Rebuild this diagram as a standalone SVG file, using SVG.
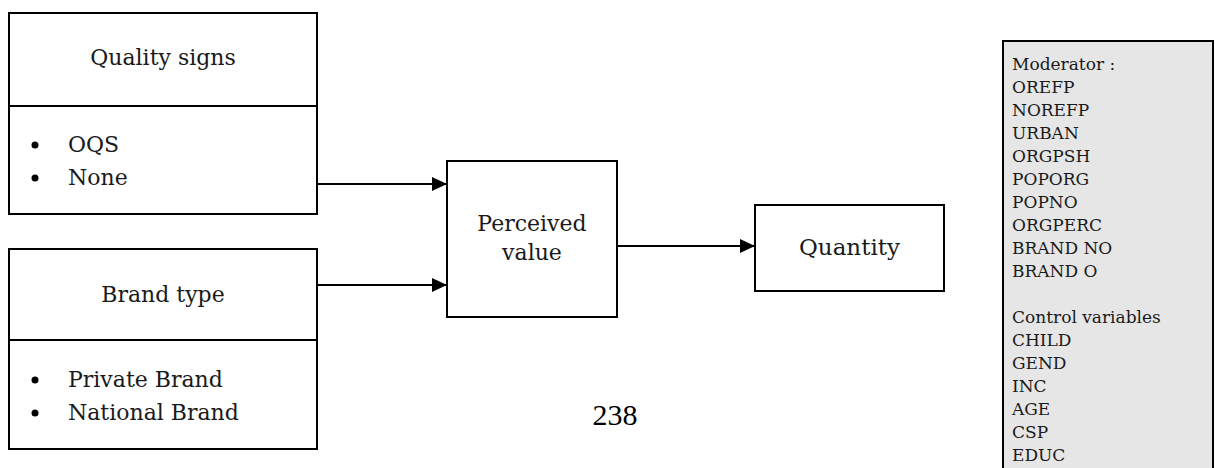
<svg xmlns="http://www.w3.org/2000/svg" width="1215" height="468" viewBox="0 0 1215 468">
<style>
.box{fill:#fff;stroke:#000;stroke-width:2}
.t{font-family:"DejaVu Serif","Liberation Serif",serif;font-size:22px;fill:#1a1a1a}
.m{font-family:"DejaVu Serif","Liberation Serif",serif;font-size:17px;fill:#1a1a1a}
.c{text-anchor:middle}
.ln{stroke:#000;stroke-width:2;fill:none}
</style>
<defs>
<marker id="ah" markerWidth="15" markerHeight="14" refX="15" refY="7" orient="auto" markerUnits="userSpaceOnUse">
<path d="M0,0 L15,7 L0,14 Z" fill="#000"/>
</marker>
</defs>
<g id="quality">
<rect class="box" x="9" y="13" width="308" height="201"/>
<line class="ln" x1="9" y1="106" x2="317" y2="106"/>
<text class="t c" x="163" y="65">Quality signs</text>
<circle cx="35" cy="145" r="3.5" fill="#000"/>
<text class="t" x="68" y="152">OQS</text>
<circle cx="35" cy="178" r="3.5" fill="#000"/>
<text class="t" x="68" y="185">None</text>
</g>
<g id="brand">
<rect class="box" x="9" y="249" width="308" height="200"/>
<line class="ln" x1="9" y1="340" x2="317" y2="340"/>
<text class="t c" x="163" y="302">Brand type</text>
<circle cx="35" cy="380" r="3.5" fill="#000"/>
<text class="t" x="68" y="387">Private Brand</text>
<circle cx="35" cy="413" r="3.5" fill="#000"/>
<text class="t" x="68" y="420">National Brand</text>
</g>
<g id="perceived">
<rect class="box" x="447" y="161" width="170" height="156"/>
<text class="t c" x="532" y="231">Perceived</text>
<text class="t c" x="532" y="260">value</text>
</g>
<g id="quantity">
<rect class="box" x="755" y="205" width="189" height="86"/>
<text class="t c" x="849.5" y="255" style="font-size:23px">Quantity</text>
</g>
<g id="connectors">
<line class="ln" x1="317" y1="184" x2="447" y2="184" marker-end="url(#ah)"/>
<line class="ln" x1="317" y1="285" x2="447" y2="285" marker-end="url(#ah)"/>
<line class="ln" x1="617" y1="246" x2="755" y2="246" marker-end="url(#ah)"/>
</g>
<g id="moderators">
<rect x="1003" y="41" width="210" height="440" fill="#e6e6e6" stroke="#000" stroke-width="2"/>
<text class="m" x="1012">
<tspan x="1012" y="70">Moderator :</tspan>
<tspan x="1012" y="93">OREFP</tspan>
<tspan x="1012" y="116">NOREFP</tspan>
<tspan x="1012" y="139">URBAN</tspan>
<tspan x="1012" y="162">ORGPSH</tspan>
<tspan x="1012" y="185">POPORG</tspan>
<tspan x="1012" y="208">POPNO</tspan>
<tspan x="1012" y="231">ORGPERC</tspan>
<tspan x="1012" y="254">BRAND NO</tspan>
<tspan x="1012" y="277">BRAND O</tspan>
<tspan x="1012" y="323">Control variables</tspan>
<tspan x="1012" y="346">CHILD</tspan>
<tspan x="1012" y="369">GEND</tspan>
<tspan x="1012" y="392">INC</tspan>
<tspan x="1012" y="415">AGE</tspan>
<tspan x="1012" y="438">CSP</tspan>
<tspan x="1012" y="461">EDUC</tspan>
</text>
</g>
<text x="615" y="425" font-family="Liberation Serif, serif" font-size="30" fill="#000" text-anchor="middle">238</text>
</svg>
